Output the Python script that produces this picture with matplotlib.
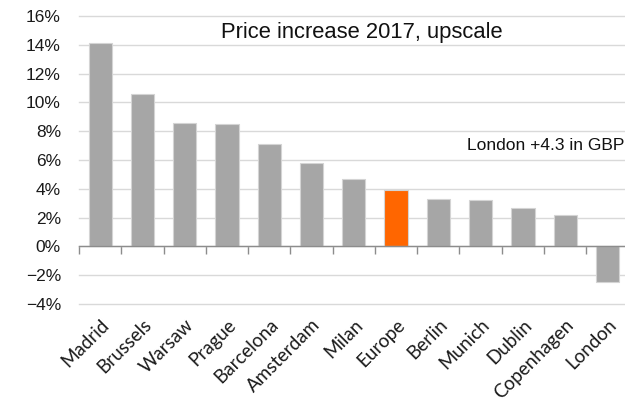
import numpy as np
import matplotlib
matplotlib.use("Agg")
import matplotlib.pyplot as plt
from matplotlib.ticker import FixedLocator, PercentFormatter

CITIES = ["Madrid", "Brussels", "Warsaw", "Prague", "Barcelona", "Amsterdam",
          "Milan", "Europe", "Berlin", "Munich", "Dublin", "Copenhagen", "London"]
PRICE_CHANGE = [14.1, 10.6, 8.6, 8.5, 7.1, 5.8, 4.7, 3.9, 3.3, 3.2, 2.7, 2.2, -2.5]
HIGHLIGHT = "Europe"

GREY = "#a6a6a6"
ORANGE = "#ff6600"

fig = plt.figure(figsize=(6.25, 3.99), dpi=100)
ax = fig.add_axes([79 / 625, 95 / 399, 549.6 / 625, 288 / 399])

x = np.arange(len(CITIES))
colors = [ORANGE if c == HIGHLIGHT else GREY for c in CITIES]
ax.bar(x, PRICE_CHANGE, width=0.55, color=colors, edgecolor="#d4d4d4",
       linewidth=0.8, zorder=3)

ax.set_xlim(-0.5, len(CITIES) - 0.5)
ax.set_ylim(-4, 16)

# horizontal gridlines, axis line sits at zero
ax.set_yticks(np.arange(-4, 17, 2))
ax.yaxis.set_major_formatter(PercentFormatter(decimals=0))
ax.grid(axis="y", color="#d9d9d9", linewidth=1.0, zorder=0)
for gl in ax.get_ygridlines():
    gl.set_clip_on(False)
ax.tick_params(axis="y", length=0, pad=13, labelsize=12.5, labelcolor="#1a1a1a")

for side in ["left", "right", "top"]:
    ax.spines[side].set_visible(False)
ax.spines["bottom"].set_position(("data", 0))
ax.spines["bottom"].set_color("#8c8c8c")
ax.spines["bottom"].set_linewidth(1.0)
ax.spines["bottom"].set_zorder(4)

# tick marks between categories, labels at category centres
ax.xaxis.set_major_locator(FixedLocator(np.arange(-0.5, len(CITIES), 1.0)))
ax.xaxis.set_minor_locator(FixedLocator(x))
ax.tick_params(axis="x", which="major", length=6, width=1.0, color="#8c8c8c",
               labelbottom=False)
ax.tick_params(axis="x", which="minor", length=0, pad=50)
ax.set_xticks(x, CITIES, minor=True)
for lbl in ax.get_xticklabels(minor=True):
    lbl.set_rotation(45)
    lbl.set_ha("right")
    lbl.set_va("top")
    lbl.set_rotation_mode("anchor")
    lbl.set_fontsize(13.5)
    lbl.set_family("Lato")
    lbl.set_color("#1a1a1a")

ax.text(6.2, 14.85, "Price increase 2017, upscale", ha="center", va="center",
        fontsize=15.8, family="Liberation Sans", color="#111111", zorder=5)
ax.text(8.68, 7.0, "London +4.3 in GBP", ha="left", va="center",
        fontsize=12.5, family="Liberation Sans", color="#111111", zorder=5)

for lbl in ax.get_yticklabels():
    lbl.set_family("Liberation Sans")

fig.savefig("out.png", dpi=100)
